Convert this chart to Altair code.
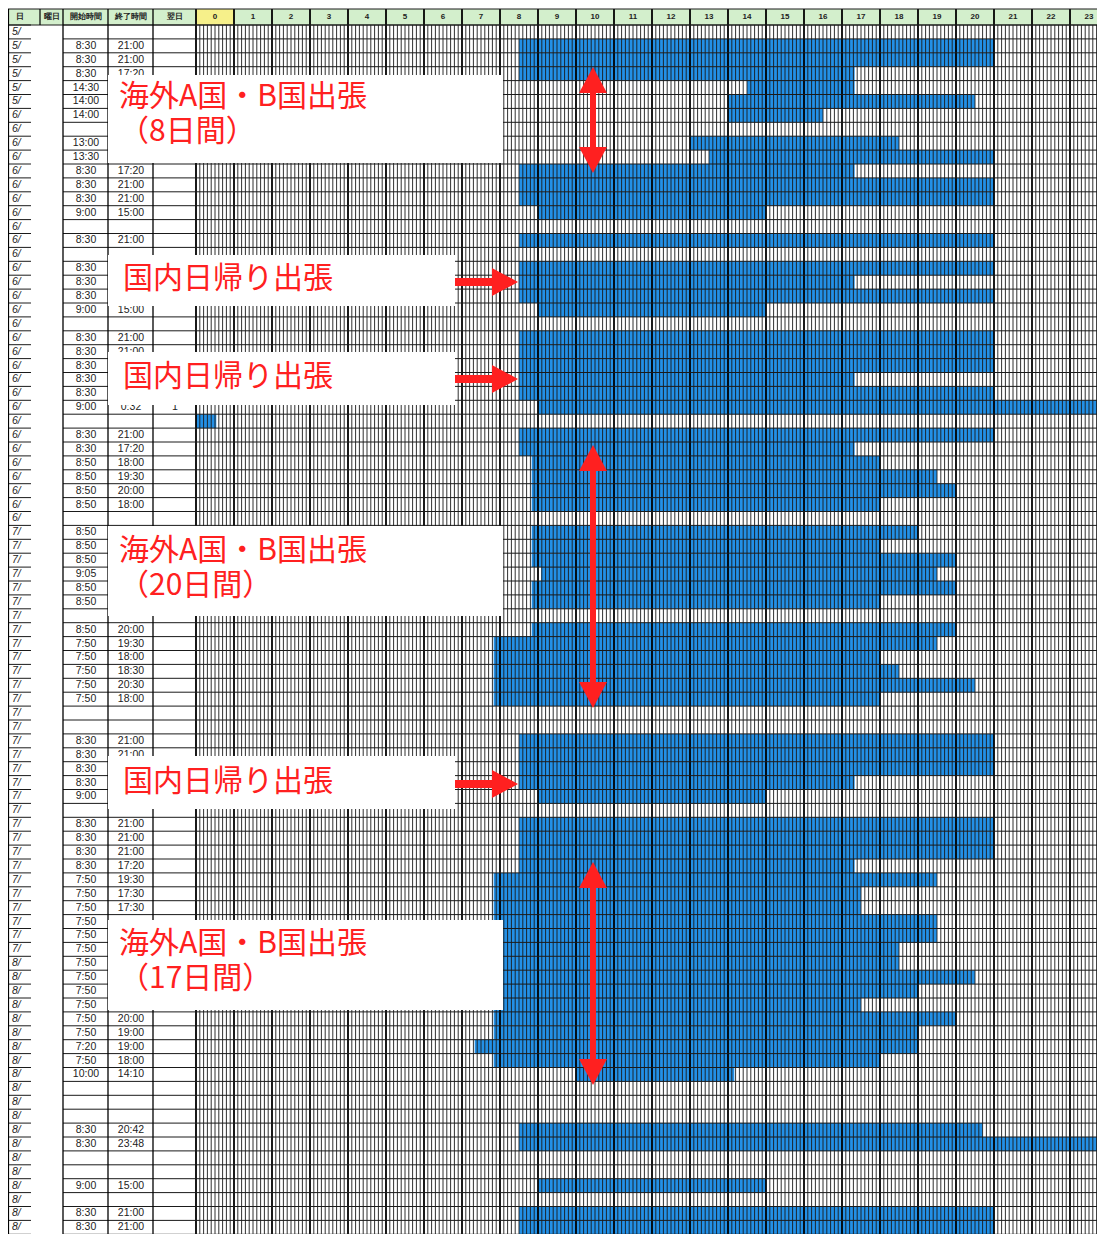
import altair as alt
import pandas as pd

# ---------------- data ----------------
dates = ["5/"] * 6 + ["6/"] * 30 + ["7/"] * 31 + ["8/"] * 20

start_times = [
    "", "8:30", "8:30", "8:30", "14:30", "14:00", "14:00", "", "13:00", "13:30",
    "8:30", "8:30", "8:30", "9:00", "", "8:30", "", "8:30", "8:30", "8:30",
    "9:00", "", "8:30", "8:30", "8:30", "8:30", "8:30", "9:00", "", "8:30",
    "8:30", "8:50", "8:50", "8:50", "8:50", "", "8:50", "8:50", "8:50", "9:05",
    "8:50", "8:50", "", "8:50", "7:50", "7:50", "7:50", "7:50", "7:50", "",
    "", "8:30", "8:30", "8:30", "8:30", "9:00", "", "8:30", "8:30", "8:30",
    "8:30", "7:50", "7:50", "7:50", "7:50", "7:50", "7:50", "7:50", "7:50", "7:50",
    "7:50", "7:50", "7:50", "7:20", "7:50", "10:00", "", "", "", "8:30",
    "8:30", "", "", "9:00", "", "8:30", "8:30",
]
end_times = [
    "", "21:00", "21:00", "17:20", "17:20", "20:30", "16:30", "", "18:30", "21:00",
    "17:20", "21:00", "21:00", "15:00", "", "21:00", "", "21:00", "17:20", "21:00",
    "15:00", "", "21:00", "21:00", "21:00", "17:20", "21:00", "0:32", "", "21:00",
    "17:20", "18:00", "19:30", "20:00", "18:00", "", "19:00", "18:00", "20:00", "19:30",
    "20:00", "18:00", "", "20:00", "19:30", "18:00", "18:30", "20:30", "18:00", "",
    "", "21:00", "21:00", "21:00", "17:20", "15:00", "", "21:00", "21:00", "21:00",
    "17:20", "19:30", "17:30", "17:30", "19:30", "19:30", "18:30", "18:30", "20:30", "19:00",
    "17:30", "20:00", "19:00", "19:00", "18:00", "14:10", "", "", "", "20:42",
    "23:48", "", "", "15:00", "", "21:00", "21:00",
]
next_day = [""] * 87
next_day[27] = "1"

hour_labels = ["0", "1", "2", "3", "4", "5", "6", "7", "8", "9", "10", "11",
               "12", "13", "14", "15", "16", "17", "18", "19", "20", "21", "22", "23"]
header_labels = ["日", "曜日", "開始時間", "終了時間", "翌日"]

trip_long = "海外A国・B国出張"
trip_day = "国内日帰り出張"
trip_lengths = ["（8日間）", "（20日間）", "（17日間）"]

# ---------------- layout ----------------
W, H = 1089, 1226
PX0, PXH = 196.0, 38.0      # x pixel of hour 0, pixels per hour
PY0, PYR = 25.0, 13.9       # y pixel of first data row, pixels per row


def px2h(px):
    return (px - PX0) / PXH


def py2r(py):
    return (py - PY0) / PYR


def r2py(r):
    return PY0 + PYR * r


XMIN, XMAX = px2h(8), px2h(8 + W)
YMIN, YMAX = py2r(8), py2r(8 + H)
XS = alt.Scale(domain=[XMIN, XMAX], nice=False, zero=False)
YS = alt.Scale(domain=[YMIN, YMAX], nice=False, zero=False, reverse=True)


def X(f):
    return alt.X(f, type="quantitative", scale=XS, axis=None)


def Y(f):
    return alt.Y(f, type="quantitative", scale=YS, axis=None)


def t2h(s):
    h, m = s.split(":")
    return int(h) + int(m) / 60.0


N = len(dates)
BLUE = "#2390e6"
RED = "#ff2020"

# bars
bars = []
for i in range(N):
    s, e = start_times[i], end_times[i]
    if not s:
        continue
    if next_day[i]:
        bars.append({"row": i, "r2": i + 1, "s": t2h(s), "e": 24.0})
        bars.append({"row": i + 1, "r2": i + 2, "s": 0.0, "e": t2h(e)})
    else:
        bars.append({"row": i, "r2": i + 1, "s": t2h(s), "e": t2h(e)})
bars_df = pd.DataFrame(bars)

# header background
hdr_bg = pd.DataFrame([
    {"x1": XMIN, "x2": XMAX, "y1": py2r(9), "y2": 0, "c": "#d3efcc"},
    {"x1": 0, "x2": 1, "y1": py2r(9), "y2": 0, "c": "#f6f08a"},
])

# grid lines
sub_v = pd.DataFrame([{"x": k / 10.0, "y1": 0, "y2": YMAX} for k in range(1, 240) if k % 10 != 0])
hour_v = pd.DataFrame([{"x": float(h), "y1": py2r(9), "y2": YMAX} for h in range(25)])
table_v = pd.DataFrame([
    {"x": px2h(8), "y1": py2r(9), "y2": YMAX, "w": 2.2},
    {"x": px2h(40), "y1": py2r(9), "y2": 0, "w": 1.2},
    {"x": px2h(63), "y1": py2r(9), "y2": YMAX, "w": 1.3},
    {"x": px2h(108), "y1": py2r(9), "y2": YMAX, "w": 1.3},
    {"x": px2h(153), "y1": py2r(9), "y2": YMAX, "w": 1.3},
])
rows_h = []
for r in range(N + 1):
    rows_h.append({"y": float(r), "x1": px2h(63), "x2": XMAX})
    rows_h.append({"y": float(r), "x1": px2h(8), "x2": px2h(31)})
rows_h.append({"y": 0.0, "x1": XMIN, "x2": XMAX})
rows_h.append({"y": py2r(9), "x1": XMIN, "x2": XMAX})
rows_h_df = pd.DataFrame(rows_h)

# annotation boxes (pixel extents)
box_px = [
    (108, 503, 75, 163),
    (108, 455, 255, 306),
    (108, 455, 352, 405),
    (108, 503, 526, 616),
    (108, 455, 756, 809),
    (108, 503, 920, 1010),
]
boxes = pd.DataFrame([{"x1": px2h(a), "x2": px2h(b), "y1": py2r(c), "y2": py2r(d)} for a, b, c, d in box_px])


def hidden(px, py):
    return any(a <= px <= b and c <= py <= d for a, b, c, d in box_px)


# texts
hdr_txt = pd.DataFrame(
    [{"x": px2h(p), "y": py2r(17), "t": t} for p, t in zip([20, 52, 86, 131, 175], header_labels)]
    + [{"x": h + 0.5, "y": py2r(17), "t": t} for h, t in enumerate(hour_labels)]
)
date_txt = pd.DataFrame([{"x": px2h(12), "y": i + 0.5, "t": d} for i, d in enumerate(dates)])
time_rows = []
for col_px, values in ((86, start_times), (131, end_times), (175, next_day)):
    for i, v in enumerate(values):
        if v and not hidden(col_px, r2py(i + 0.5)):
            time_rows.append({"x": px2h(col_px), "y": i + 0.5, "t": v})
time_txt = pd.DataFrame(time_rows)

ann_txt = pd.DataFrame([
    {"x": px2h(119), "y": py2r(97), "t": trip_long},
    {"x": px2h(119), "y": py2r(132), "t": trip_lengths[0]},
    {"x": px2h(123), "y": py2r(279), "t": trip_day},
    {"x": px2h(123), "y": py2r(377), "t": trip_day},
    {"x": px2h(119), "y": py2r(551), "t": trip_long},
    {"x": px2h(119), "y": py2r(586), "t": trip_lengths[1]},
    {"x": px2h(123), "y": py2r(782), "t": trip_day},
    {"x": px2h(119), "y": py2r(944), "t": trip_long},
    {"x": px2h(119), "y": py2r(979), "t": trip_lengths[2]},
])

# arrows
HEAD = 13  # half head height in px
v_arrows = [(593, 67, 173), (593, 445, 708), (593, 862, 1085)]
v_shaft = pd.DataFrame([{"x": px2h(x), "y1": py2r(t + HEAD), "y2": py2r(b - HEAD)} for x, t, b in v_arrows])
up_heads = pd.DataFrame([{"x": px2h(x), "y": py2r(t + HEAD)} for x, t, b in v_arrows])
down_heads = pd.DataFrame([{"x": px2h(x), "y": py2r(b - HEAD)} for x, t, b in v_arrows])
h_arrows = [(282, 455, 518), (379, 455, 518), (784, 455, 518)]
h_shaft = pd.DataFrame([{"y": py2r(y), "x1": px2h(a), "x2": px2h(b - HEAD)} for y, a, b in h_arrows])
right_heads = pd.DataFrame([{"y": py2r(y), "x": px2h(b - HEAD)} for y, a, b in h_arrows])

# ---------------- layers ----------------
layers = [
    alt.Chart(hdr_bg).mark_rect(clip=True).encode(
        x=X("x1"), x2="x2", y=Y("y1"), y2="y2", color=alt.Color("c:N", scale=None)),
    alt.Chart(bars_df).mark_rect(clip=True, color=BLUE).encode(
        x=X("s"), x2="e", y=Y("row"), y2="r2"),
    alt.Chart(sub_v).mark_rule(clip=True, color="#1a1a1a", strokeWidth=0.9).encode(
        x=X("x"), y=Y("y1"), y2="y2"),
    alt.Chart(hour_v).mark_rule(clip=True, color="#000000", strokeWidth=1.8).encode(
        x=X("x"), y=Y("y1"), y2="y2"),
    alt.Chart(rows_h_df).mark_rule(clip=True, color="#1a1a1a", strokeWidth=1.0).encode(
        y=Y("y"), x=X("x1"), x2="x2"),
    alt.Chart(table_v).mark_rule(clip=True, color="#000000").encode(
        x=X("x"), y=Y("y1"), y2="y2", strokeWidth=alt.StrokeWidth("w:Q", scale=None)),
    alt.Chart(hdr_txt).mark_text(font="Liberation Sans", fontSize=8, fontWeight="bold",
                                 color="#222222", baseline="middle", align="center").encode(
        x=X("x"), y=Y("y"), text="t:N"),
    alt.Chart(date_txt).mark_text(font="Liberation Sans", fontSize=10.5, fontStyle="italic",
                                  color="#222222", baseline="middle", align="left").encode(
        x=X("x"), y=Y("y"), text="t:N"),
    alt.Chart(time_txt).mark_text(font="Liberation Sans", fontSize=10.5,
                                  color="#222222", baseline="middle", align="center").encode(
        x=X("x"), y=Y("y"), text="t:N"),
    alt.Chart(boxes).mark_rect(color="white").encode(
        x=X("x1"), x2="x2", y=Y("y1"), y2="y2"),
    alt.Chart(ann_txt).mark_text(font="Noto Sans CJK JP", fontSize=30, color=RED,
                                 baseline="middle", align="left").encode(
        x=X("x"), y=Y("y"), text="t:N"),
    alt.Chart(v_shaft).mark_rule(color=RED, strokeWidth=6).encode(
        x=X("x"), y=Y("y1"), y2="y2"),
    alt.Chart(up_heads).mark_point(shape="M-1,0.93L1,0.93L0,-0.93Z", size=784, filled=True,
                                   color=RED, opacity=1).encode(x=X("x"), y=Y("y")),
    alt.Chart(down_heads).mark_point(shape="M-1,-0.93L1,-0.93L0,0.93Z", size=784, filled=True,
                                     color=RED, opacity=1).encode(x=X("x"), y=Y("y")),
    alt.Chart(h_shaft).mark_rule(color=RED, strokeWidth=8).encode(
        y=Y("y"), x=X("x1"), x2="x2"),
    alt.Chart(right_heads).mark_point(shape="M-0.93,-1L-0.93,1L0.93,0Z", size=784, filled=True,
                                      color=RED, opacity=1).encode(x=X("x"), y=Y("y")),
]

chart = alt.layer(*layers).properties(
    width=W, height=H, padding=0, autosize=alt.AutoSizeParams(type="none")
).configure_view(stroke=None)

chart.save("out.html", embed_options={"renderer": "svg", "actions": False})
